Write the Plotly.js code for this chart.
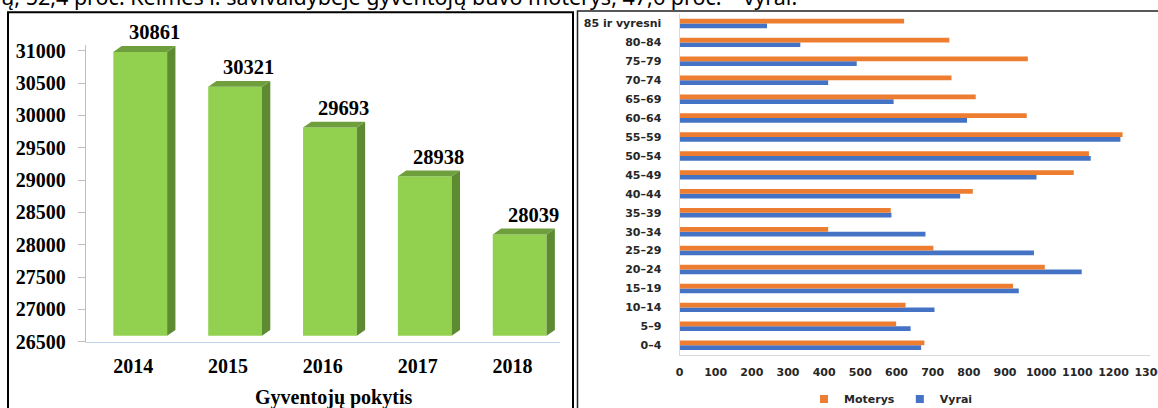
<!DOCTYPE html>
<html>
<head>
<meta charset="utf-8">
<script src="https://cdn.plot.ly/plotly-3.0.1.min.js"></script>
<style>
  html, body { margin: 0; padding: 0; background: #fff; }
  #chart { width: 1158px; height: 408px; }
</style>
</head>
<body>
<div id="chart"></div>
<script>
// ---------- data ----------
const years = [2014, 2015, 2016, 2017, 2018];
const population = [30861, 30321, 29693, 28938, 28039];
const leftTicks = [26500, 27000, 27500, 28000, 28500, 29000, 29500, 30000, 30500, 31000];
const leftAxisTitle = 'Gyventojų pokytis';

const ageGroups = ['0–4', '5–9', '10–14', '15–19', '20–24', '25–29', '30–34', '35–39', '40–44',
                   '45–49', '50–54', '55–59', '60–64', '65–69', '70–74', '75–79', '80–84', '85 ir vyresni'];
const moterys = [677, 599, 625, 922, 1010, 702, 411, 584, 811, 1090, 1132, 1225, 960, 819, 752, 963, 746, 621];
const vyrai   = [668, 639, 705, 938, 1112, 980, 680, 586, 776, 987, 1137, 1219, 795, 592, 411, 490, 334, 242];
const seriesNames = ['Moterys', 'Vyrai'];
const headerText = 'ų, 52,4 proc. Kelmės r. savivaldybėje gyventojų buvo moterys, 47,6 proc. – vyrai.';

// ---------- layout geometry (pixels) ----------
const W = 1158, H = 408;
const fx = p => p / W;
const fy = p => 1 - p / H;

const L = { x0: 85.7, x1: 560, yTop: 44.9, yBot: 341.7, r0: 26500, r1: 31090 };
const pxPerUnitY = (L.yBot - L.yTop) / (L.r1 - L.r0);
const pxPerCat = (L.x1 - L.x0) / 5;
const toUnitsY = px => px / pxPerUnitY;
const toUnitsX = px => px / pxPerCat;

// 3D bar parameters (converted from pixels to data units)
const FRONT_LEFT = toUnitsX(-19.8);
const FRONT_W = toUnitsX(53.8);
const DEPTH_X = toUnitsX(8.3);
const DEPTH_Y = toUnitsY(5.8);
const FRONT_BASE = L.r0 + toUnitsY(6);
const FRONT_TOP_SHIFT = toUnitsY(7.8);

const serif = 'Liberation Serif, Times New Roman, serif';
const sans = 'DejaVu Sans, Verdana, sans-serif';

const traces = [];

// front faces
traces.push({
  type: 'bar', x: years, y: population.map(v => v + FRONT_TOP_SHIFT - FRONT_BASE),
  base: FRONT_BASE, width: FRONT_W, offset: FRONT_LEFT,
  marker: { color: '#92D050', line: { width: 0 } },
  xaxis: 'x', yaxis: 'y', showlegend: false, hoverinfo: 'skip'
});
// side & top faces
years.forEach((yr, i) => {
  const xl = yr + FRONT_LEFT, xr = xl + FRONT_W;
  const top = population[i] + FRONT_TOP_SHIFT;
  traces.push({
    type: 'scatter', mode: 'lines', fill: 'toself', fillcolor: '#5E8B32',
    line: { width: 0, color: '#5E8B32' },
    x: [xr, xr, xr + DEPTH_X, xr + DEPTH_X, xr],
    y: [FRONT_BASE, top, top + DEPTH_Y, FRONT_BASE + DEPTH_Y, FRONT_BASE],
    xaxis: 'x', yaxis: 'y', showlegend: false, hoverinfo: 'skip'
  });
  traces.push({
    type: 'scatter', mode: 'lines', fill: 'toself', fillcolor: '#6E9F3C',
    line: { width: 0, color: '#6E9F3C' },
    x: [xl, xr, xr + DEPTH_X, xl + DEPTH_X, xl],
    y: [top, top, top + DEPTH_Y, top + DEPTH_Y, top],
    xaxis: 'x', yaxis: 'y', showlegend: false, hoverinfo: 'skip'
  });
});

// right chart bars (Vyrai first so Moterys sits on top of each group)
traces.push({
  type: 'bar', orientation: 'h', name: seriesNames[1], x: vyrai, y: ageGroups,
  marker: { color: '#4472C4' }, xaxis: 'x2', yaxis: 'y2', showlegend: false, hoverinfo: 'skip'
});
traces.push({
  type: 'bar', orientation: 'h', name: seriesNames[0], x: moterys, y: ageGroups,
  marker: { color: '#ED7D31' }, xaxis: 'x2', yaxis: 'y2', showlegend: false, hoverinfo: 'skip'
});
// legend entries
traces.push({
  type: 'scatter', mode: 'markers', name: seriesNames[0], x: [null], y: [null],
  marker: { symbol: 'square', size: 8, color: '#ED7D31' }, xaxis: 'x2', yaxis: 'y2'
});
traces.push({
  type: 'scatter', mode: 'markers', name: seriesNames[1], x: [null], y: [null],
  marker: { symbol: 'square', size: 8, color: '#4472C4' }, xaxis: 'x2', yaxis: 'y2'
});

const annotations = years.map((yr, i) => ({
  x: yr, y: population[i], xref: 'x', yref: 'y', xshift: 21, yshift: 27.5,
  text: String(population[i]), showarrow: false, xanchor: 'center', yanchor: 'middle',
  font: { family: serif, size: 20.5, color: '#000', weight: 'bold' }
}));
annotations.push({
  x: fx(333.8), y: fy(397), xref: 'paper', yref: 'paper', text: leftAxisTitle,
  showarrow: false, xanchor: 'center', yanchor: 'middle',
  font: { family: serif, size: 20, color: '#000', weight: 'bold' }
});
annotations.push({
  x: fx(-1), y: fy(-4), xref: 'paper', yref: 'paper', text: headerText,
  showarrow: false, xanchor: 'left', yanchor: 'middle',
  font: { family: 'Noto Sans, Open Sans, sans-serif', size: 21.5, color: '#000' }
});

const layout = {
  width: W, height: H,
  margin: { l: 0, r: 0, t: 0, b: 0, pad: 0, autoexpand: false },
  paper_bgcolor: '#fff', plot_bgcolor: 'rgba(0,0,0,0)',
  barmode: 'group', bargap: 0.5, bargroupgap: 0,
  showlegend: true,
  legend: {
    orientation: 'h', x: fx(804), y: fy(399), xanchor: 'left', yanchor: 'middle',
    font: { family: sans, size: 11, color: '#262626', weight: 'bold' },
    bgcolor: 'rgba(0,0,0,0)', traceorder: 'normal'
  },
  xaxis: {
    domain: [fx(L.x0), fx(L.x1)], range: [2013.5, 2018.5], anchor: 'y',
    tickmode: 'array', tickvals: years, ticktext: years.map(String),
    ticks: 'outside', ticklen: 6, tickcolor: 'rgba(0,0,0,0)',
    showline: true, linecolor: '#BDD7EE', linewidth: 1.5,
    showgrid: false, zeroline: false, ticklabelstandoff: 13.5, automargin: false,
    tickfont: { family: serif, size: 20, color: '#000', weight: 'bold' }
  },
  yaxis: {
    domain: [fy(L.yBot), fy(L.yTop)], range: [L.r0, L.r1], anchor: 'x',
    tickmode: 'array', tickvals: leftTicks, ticktext: leftTicks.map(String),
    ticks: 'outside', ticklen: 7, tickcolor: '#BFBFBF', tickwidth: 1,
    showline: true, linecolor: '#BFBFBF', linewidth: 1, automargin: false,
    showgrid: false, zeroline: false, ticklabelstandoff: 8,
    tickfont: { family: serif, size: 20, color: '#000', weight: 'bold' }
  },
  xaxis2: {
    domain: [fx(679.5), fx(1149.7)], range: [0, 1300], anchor: 'y2',
    tick0: 0, dtick: 100, ticks: '', showline: true, linecolor: '#D9D9D9', linewidth: 1,
    showgrid: false, zeroline: false, ticklabelstandoff: 7, ticklabeloverflow: 'allow', automargin: false,
    tickfont: { family: sans, size: 11, color: '#262626', weight: 'bold' }
  },
  yaxis2: {
    domain: [fy(354.7), fy(14)], type: 'category', anchor: 'x2',
    categoryorder: 'array', categoryarray: ageGroups, automargin: false,
    ticks: '', showline: true, linecolor: '#D9D9D9', linewidth: 1,
    showgrid: false, zeroline: false, ticklabelstandoff: 15,
    tickfont: { family: sans, size: 11, color: '#262626', weight: 'bold' }
  },
  shapes: [
    { type: 'rect', xref: 'paper', yref: 'paper', x0: fx(8), x1: fx(573), y0: fy(430), y1: fy(12.2),
      line: { color: '#000', width: 2 }, fillcolor: 'rgba(0,0,0,0)' },
    { type: 'rect', xref: 'paper', yref: 'paper', x0: fx(577.5), x1: fx(1175), y0: fy(430), y1: fy(11),
      line: { color: '#222', width: 1.5 }, fillcolor: 'rgba(0,0,0,0)' }
  ],
  annotations: annotations
};

Plotly.newPlot('chart', traces, layout, { staticPlot: true, displayModeBar: false });
</script>
</body>
</html>
